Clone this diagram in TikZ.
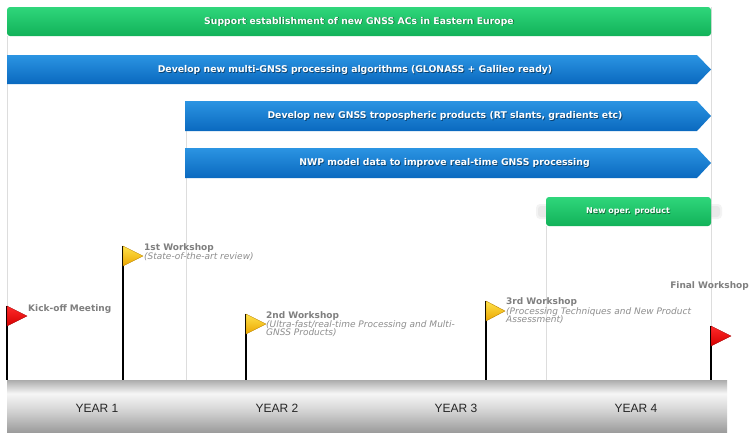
\documentclass[tikz,border=0pt]{standalone}
\usepackage{fontspec}
\setmainfont{DejaVu Sans}
\newfontfamily\yearfont{Liberation Sans}
\definecolor{grnT}{HTML}{2FD67B}
\definecolor{grnB}{HTML}{12B259}
\definecolor{bluT}{HTML}{2B94E2}
\definecolor{bluB}{HTML}{0A69BF}
\definecolor{gridc}{HTML}{DDDDDD}
\definecolor{lblc}{HTML}{7F7F7F}
\definecolor{itc}{HTML}{8E8E8E}
\definecolor{barD}{HTML}{9C9C9C}
\definecolor{barM}{HTML}{D2D2D2}
\definecolor{barL}{HTML}{F6F6F6}
\definecolor{barT}{HTML}{ABABAB}
\definecolor{yelT}{HTML}{FFE24A}
\definecolor{yelB}{HTML}{EBA600}
\definecolor{redT}{HTML}{FF2A2A}
\definecolor{redB}{HTML}{D40000}
\pgfdeclareverticalshading{yearbar}{100bp}{color(0bp)=(barD); color(25bp)=(barD); color(45bp)=(barM); color(62bp)=(barL); color(75bp)=(barT); color(100bp)=(barT)}
\newcommand\mybarlabel[4]{%
  \node[barshadow,font=#4] at ([shift={(0.8,0.8)}]#2) {#3};
  \node[barlabel,font=#4] (#1) at (#2) {#3};}
\begin{document}
\begin{tikzpicture}[x=1pt,y=-1pt,
  barlabel/.style={text=white,inner sep=0pt},
  barshadow/.style={text=black,opacity=0.45,inner sep=0pt},
  gridline/.style={draw=gridc,line width=1pt},
  pole/.style={draw=black,line width=1.2pt},
  yflag/.style={top color=yelT,bottom color=yelB,draw=yelB!80!black,line width=0.4pt},
  rflag/.style={top color=redT,bottom color=redB,draw=redB!80!black,line width=0.4pt},
  ttl/.style={font=\fontsize{9}{9}\selectfont\bfseries,text=lblc,inner sep=0pt,anchor=base west},
  itl/.style={font=\fontsize{9}{9}\selectfont\itshape,text=itc,inner sep=0pt,anchor=base west},
  yr/.style={font=\yearfont\fontsize{12}{12}\selectfont,text=black!85,inner sep=0pt}]
\useasboundingbox (0,0) rectangle (750,432);
\fill[white] (0,0) rectangle (750,432);
% grid lines
\coordinate (g1a) at (7,36);   \coordinate (g1b) at (7,380);
\coordinate (g2a) at (186,131); \coordinate (g2b) at (186,380);
\coordinate (g3a) at (546,226); \coordinate (g3b) at (546,380);
\coordinate (g4a) at (711,7);  \coordinate (g4b) at (711,380);
\draw[gridline] (g1a) -- (g1b);
\draw[gridline] (g2a) -- (g2b);
\draw[gridline] (g3a) -- (g3b);
\draw[gridline] (g4a) -- (g4b);
% bars
\shade[rounded corners=3pt,top color=grnT,bottom color=grnB] (7,7) rectangle (711,36);
\mybarlabel{b1}{359,21.5}{Support establishment of new GNSS ACs in Eastern Europe}{\fontsize{9.3}{10}\selectfont\bfseries}
\shade[top color=bluT,bottom color=bluB] (7,55) -- (697,55) -- (711,69.5) -- (697,84) -- (7,84) -- cycle;
\mybarlabel{b2}{355,70}{Develop new multi-GNSS processing algorithms (GLONASS + Galileo ready)}{\fontsize{9.3}{10}\selectfont\bfseries}
\shade[top color=bluT,bottom color=bluB] (185,101) -- (697,101) -- (711,116) -- (697,131) -- (185,131) -- cycle;
\mybarlabel{b3}{445,116}{Develop new GNSS tropospheric products (RT slants, gradients etc)}{\fontsize{9.3}{10}\selectfont\bfseries}
\shade[top color=bluT,bottom color=bluB] (185,148) -- (697,148) -- (711,163) -- (697,178) -- (185,178) -- cycle;
\mybarlabel{b4}{444.5,163}{NWP model data to improve real-time GNSS processing}{\fontsize{9.3}{10}\selectfont\bfseries}
% faint blurred shadow behind product box
\fill[gray!50,opacity=0.18,rounded corners=4pt] (536,204) rectangle (722,219);
\fill[gray!50,opacity=0.18,rounded corners=3pt] (538,206) rectangle (720,217);
\shade[rounded corners=3pt,top color=grnT,bottom color=grnB] (546,197) rectangle (711,226);
\mybarlabel{b5}{628,211}{New oper. product}{\fontsize{8}{9}\selectfont\bfseries}
% year bar
\shade[shading=yearbar] (7,380) rectangle (727,432);
\node[yr] (y1) at (97,408) {YEAR 1};
\node[yr] (y2) at (277,408) {YEAR 2};
\node[yr] (y3) at (456,408) {YEAR 3};
\node[yr] (y4) at (636,408) {YEAR 4};
% milestones
\coordinate (m1t) at (7,306);   \coordinate (m1b) at (7,380);
\coordinate (m2t) at (123,246); \coordinate (m2b) at (123,380);
\coordinate (m3t) at (246,314); \coordinate (m3b) at (246,380);
\coordinate (m4t) at (486,301); \coordinate (m4b) at (486,380);
\coordinate (m5t) at (711,326); \coordinate (m5b) at (711,380);
\draw[pole] (m1t) -- (m1b);
\draw[pole] (m2t) -- (m2b);
\draw[pole] (m3t) -- (m3b);
\draw[pole] (m4t) -- (m4b);
\draw[pole] (m5t) -- (m5b);
\shade[rflag] (m1t) -- ++(20,10) -- ++(-20,10) -- cycle;
\shade[yflag] (m2t) -- ++(20,10) -- ++(-20,10) -- cycle;
\shade[yflag] (m3t) -- ++(20,10) -- ++(-20,10) -- cycle;
\shade[yflag] (m4t) -- ++(19,10) -- ++(-19,10) -- cycle;
\shade[rflag] (m5t) -- ++(20,10) -- ++(-20,10) -- cycle;
% milestone labels
\node[ttl] (l1) at (28,311) {Kick-off Meeting};
\node[ttl] (l2) at (144,250) {1st Workshop};
\node[itl] (l2a) at (144,259) {(State-of-the-art review)};
\node[ttl] (l3) at (266,318) {2nd Workshop};
\node[itl] (l3a) at (266,327) {(Ultra-fast/real-time Processing and Multi-};
\node[itl] (l3b) at (266,335.5) {GNSS Products)};
\node[ttl] (l4) at (506,304) {3rd Workshop};
\node[itl] (l4a) at (506,314) {(Processing Techniques and New Product};
\node[itl] (l4b) at (506,322.5) {Assessment)};
\node[ttl,anchor=base east] (l5) at (749,288) {Final Workshop};
\end{tikzpicture}
\end{document}
